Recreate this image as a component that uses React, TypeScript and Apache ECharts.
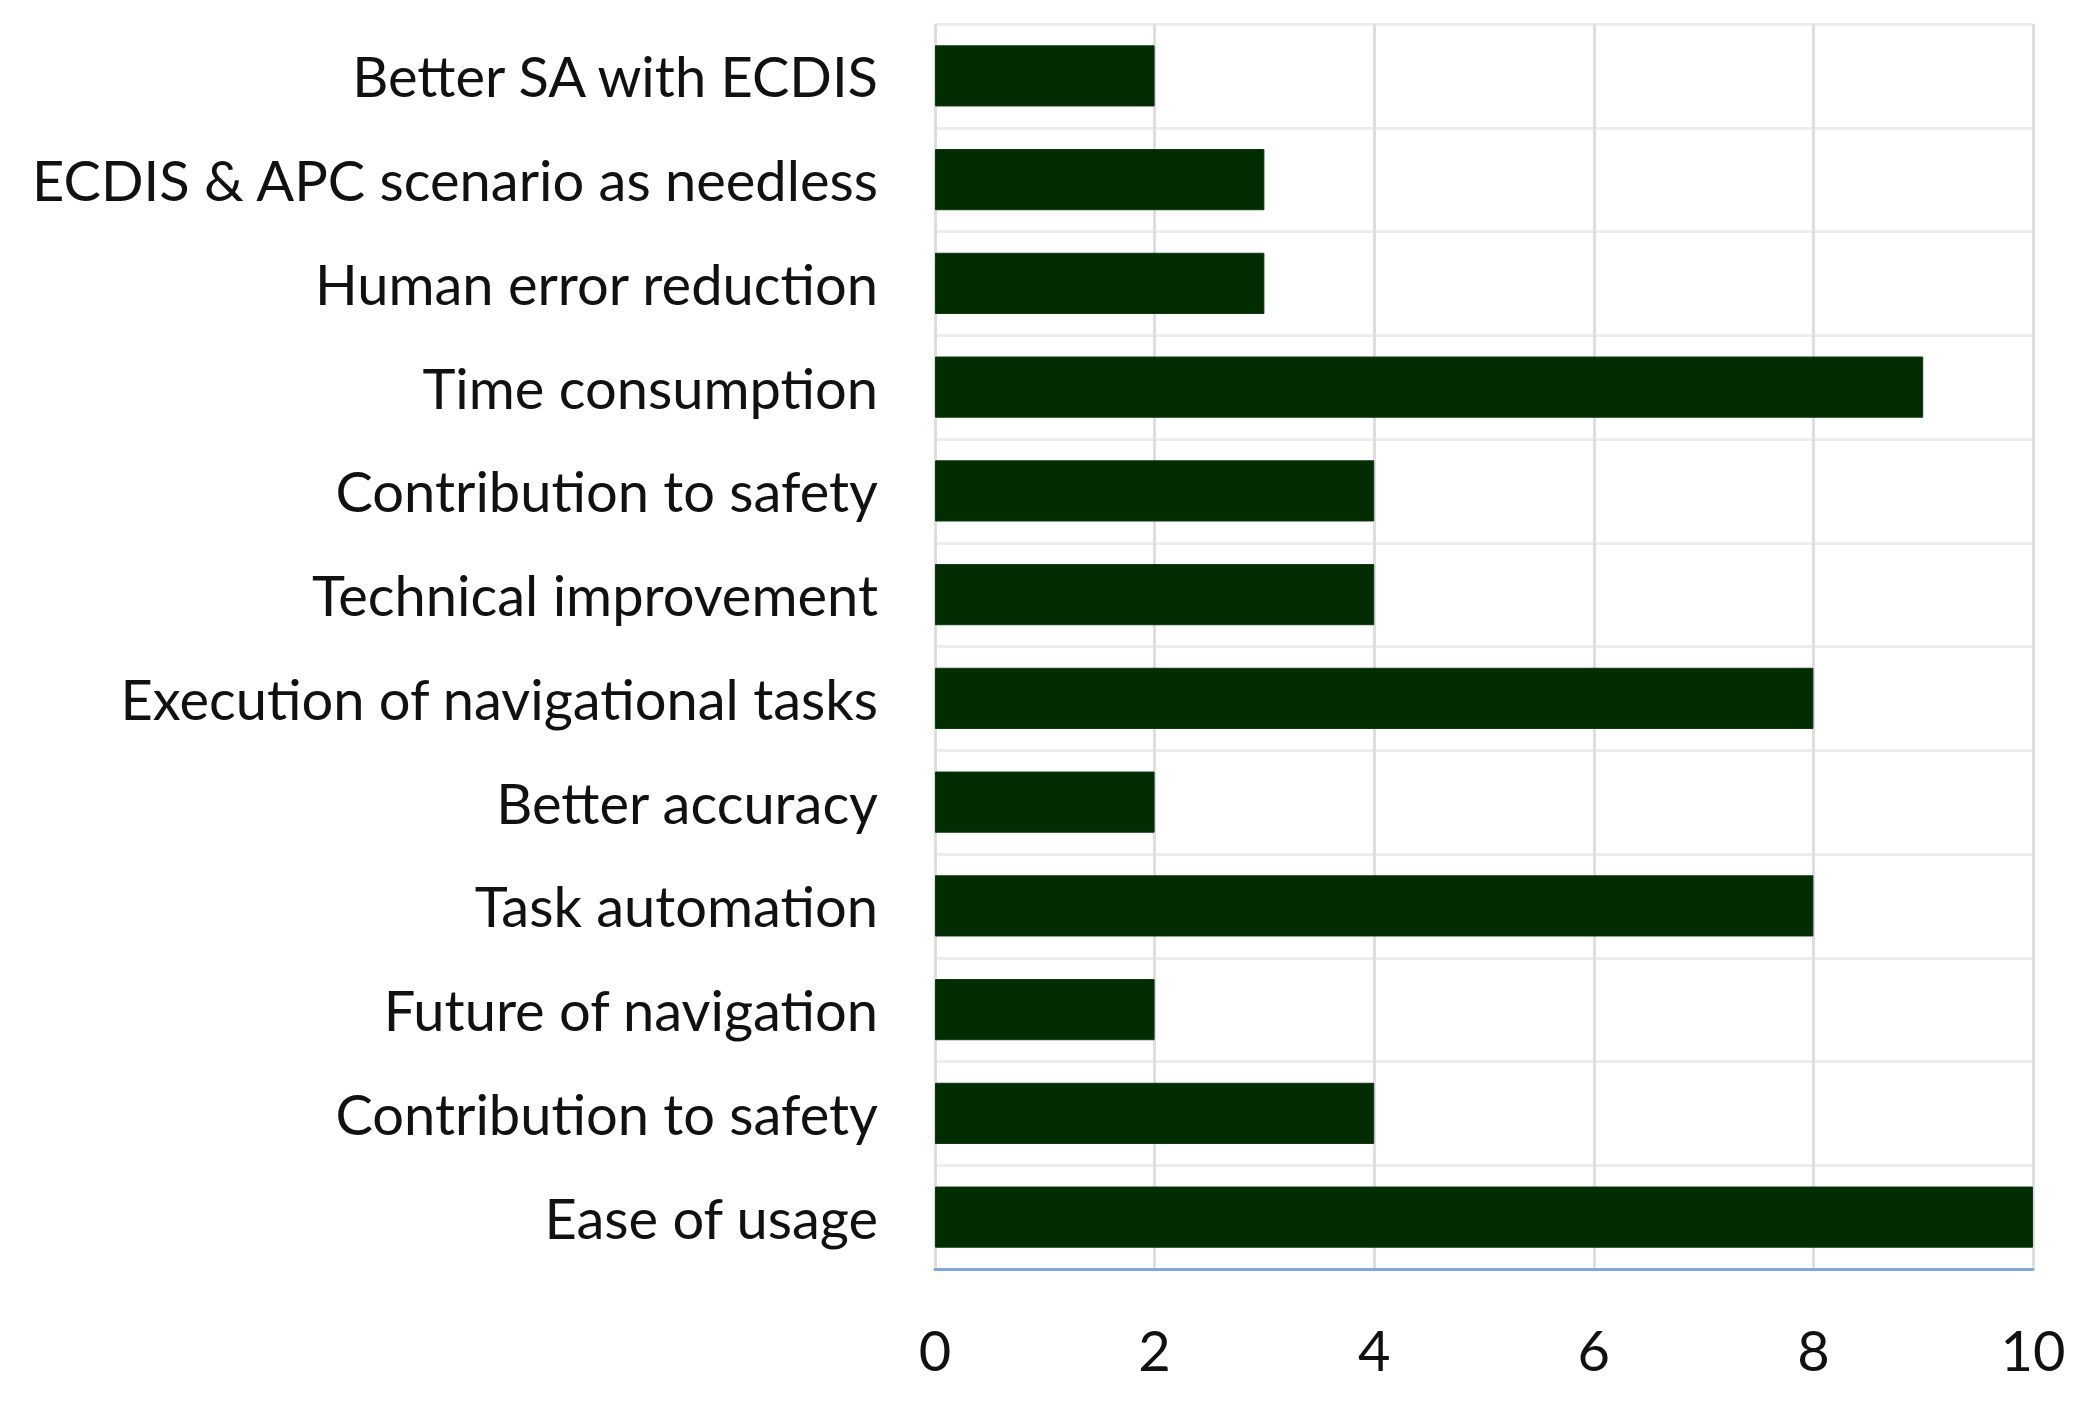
import React, { useEffect, useRef } from "react";
import * as echarts from "echarts";

const categories = [
  "Better SA with ECDIS",
  "ECDIS & APC scenario as needless",
  "Human error reduction",
  "Time consumption",
  "Contribution to safety",
  "Technical improvement",
  "Execution of navigational tasks",
  "Better accuracy",
  "Task automation",
  "Future of navigation",
  "Contribution to safety",
  "Ease of usage",
];
const values = [2, 3, 3, 9, 4, 4, 8, 2, 8, 2, 4, 10];
const xTicks = { min: 0, max: 10, interval: 2 };

const FONT = "Lato, 'Open Sans', sans-serif";

export default function App() {
  const ref = useRef<HTMLDivElement>(null);
  useEffect(() => {
    if (!ref.current) return;
    const chart = echarts.init(ref.current, undefined, { renderer: "svg" });
    chart.setOption({
      animation: false,
      backgroundColor: "#ffffff",
      grid: { left: 935, right: 62, top: 24, bottom: 141, containLabel: false },
      xAxis: {
        type: "value",
        min: xTicks.min,
        max: xTicks.max,
        interval: xTicks.interval,
        axisLine: { show: true, lineStyle: { color: "#7fa9da", width: 3 } },
        axisTick: { show: false },
        axisLabel: { color: "#111", fontSize: 56, fontFamily: FONT, margin: 52 },
        splitLine: { show: true, lineStyle: { color: "#dedede", width: 3 } },
      },
      yAxis: {
        type: "category",
        inverse: true,
        data: categories,
        axisLine: { show: false },
        axisTick: { show: false },
        axisLabel: { color: "#111", fontSize: 56, fontFamily: FONT, margin: 57 },
        splitLine: { show: true, lineStyle: { color: "#ececec", width: 3 } },
      },
      series: [
        {
          type: "bar",
          data: values,
          barCategoryGap: "41%",
          itemStyle: { color: "#022c02", borderColor: "#0b3a0b", borderWidth: 1 },
        },
      ],
    });
    return () => chart.dispose();
  }, []);
  return (
    <div
      ref={ref}
      style={{ position: "absolute", left: 0, top: 0, width: 2095, height: 1410 }}
    />
  );
}
